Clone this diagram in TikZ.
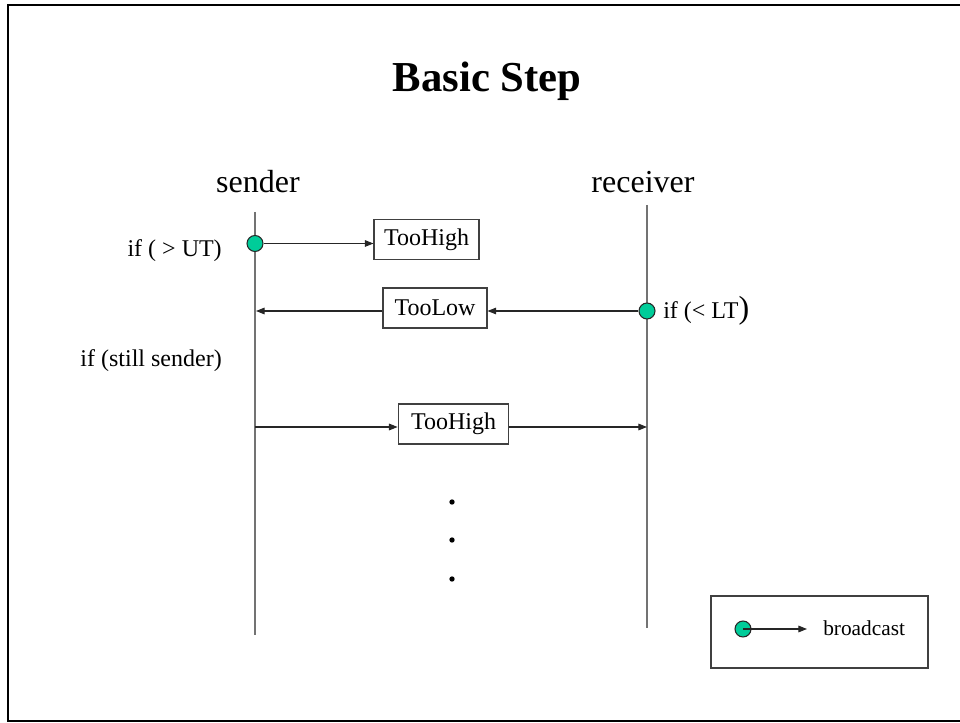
\documentclass[tikz,border=0pt]{standalone}
\usepackage{fontspec}
\setmainfont{Liberation Serif}
\usetikzlibrary{arrows.meta}
\definecolor{dotgreen}{RGB}{0,204,153}
\tikzset{
  lifeline/.style={draw=black!55, line width=1.1pt},
  msg/.style={draw=black!85, line width=0.8pt, -{Triangle[length=6.5pt,width=5pt]}},
  msgbox/.style={draw=black!75, line width=0.8pt, inner sep=0pt, minimum height=30pt,
                 font=\fontsize{18}{21}\selectfont},
  bcast/.style={circle, draw=black!85, line width=0.8pt, fill=dotgreen, minimum size=12pt, inner sep=0pt},
  lbl/.style={inner sep=0pt, font=\fontsize{18}{21}\selectfont},
  head/.style={inner sep=0pt, font=\fontsize{24}{28}\selectfont},
  dotmark/.style={circle, fill=black, minimum size=4pt, inner sep=0pt},
}
\begin{document}
\begin{tikzpicture}[x=0.75pt, y=-0.75pt]
\useasboundingbox (0,0) rectangle (960,723);
% slide frame
\draw[line width=1.6pt] (960,721) -- (8,721) -- (8,5) -- (960,5);

% title
\node[inner sep=0pt, font=\fontsize{32}{38}\selectfont\bfseries, anchor=base] (title) at (487,92) {Basic Step};

% participants
\node[head, anchor=base] (sender) at (258,193) {sender};
\node[head, anchor=base] (receiver) at (643,193) {receiver};
\coordinate (stop) at (255,212);
\coordinate (sbot) at (255,635);
\coordinate (rtop) at (647,205);
\coordinate (rbot) at (647,628);
\draw[lifeline] (stop) -- (sbot);
\draw[lifeline] (rtop) -- (rbot);

% first message: sender broadcasts TooHigh
\node[msgbox, minimum width=78.75pt] (hi1) at (426.5,239.5) {TooHigh};
\node[bcast] (c1) at (255,243.5) {};
\draw[msg] (c1) -- (c1 -| hi1.west);
\node[lbl, anchor=base east] (ifut) at (222,257) {if ( > UT)};

% second message: receiver answers TooLow
\node[msgbox, minimum width=78pt] (lo) at (435,308) {TooLow};
\node[bcast] (c2) at (647,311) {};
\coordinate (s2) at (256,311);
\draw[msg] (c2) -- (c2 -| lo.east);
\draw[msg] (lo.west |- c2) -- (s2);
\node[lbl, anchor=base west] (iflt) at (663,319) {if (< LT{\fontsize{24}{28}\selectfont)}};

\node[lbl, anchor=base east] (still) at (222,367) {if (still sender)};

% third message: TooHigh sent point to point
\node[msgbox, minimum width=83pt] (hi2) at (453.5,424) {TooHigh};
\coordinate (s3) at (255,427);
\coordinate (r3) at (647,427);
\draw[msg] (s3) -- (s3 -| hi2.west);
\draw[msg] (hi2.east |- s3) -- (r3);

% continuation dots
\node[dotmark] (d1) at (452,502) {};
\node[dotmark] (d2) at (452,540) {};
\node[dotmark] (d3) at (452,579) {};

% legend
\node[draw=black!75, line width=0.8pt, minimum width=162.75pt, minimum height=54pt, inner sep=0pt] (legend) at (819.5,632) {};
\node[bcast] (lc) at (743,629) {};
\coordinate (la) at (807,629);
\draw[msg] (lc.center) -- (la);
\node[inner sep=0pt, anchor=base west, font=\fontsize{16}{19}\selectfont] (ltext) at (823,635) {broadcast};
\end{tikzpicture}
\end{document}
